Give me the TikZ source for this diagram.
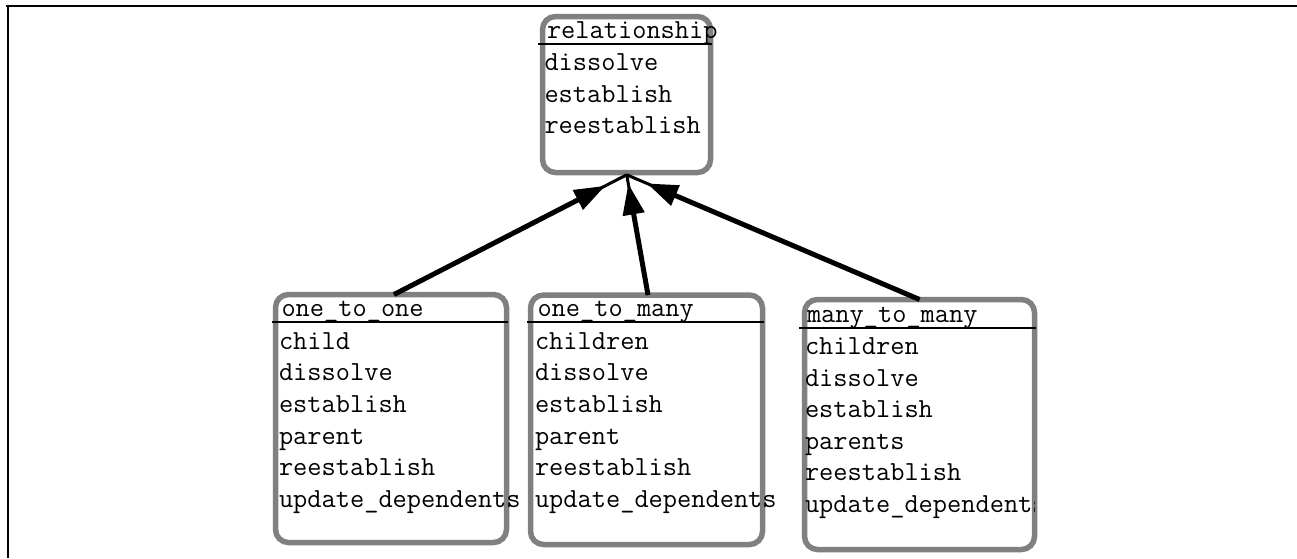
\documentclass[tikz,border=0pt]{standalone}
\usepackage{fontspec}
\usetikzlibrary{arrows.meta,calc}
\definecolor{boxgray}{HTML}{808080}
\begin{document}
\begin{tikzpicture}[x=1pt,y=-1pt,
  classbox/.style={draw=boxgray, line width=5.5pt, rounded corners=13pt, inner sep=0pt, outer sep=0pt},
  member/.style={anchor=base west, inner sep=0pt, outer sep=0pt, font=\ttfamily\fontsize{27.6}{32}\selectfont},
  titletext/.style={member},
  uline/.style={line width=2pt, black},
  stem/.style={line width=3pt, black},
  inherit/.style={line width=5pt, black, -{Triangle[length=31pt,width=21pt]}},
  frameline/.style={line width=2.2pt, black}]
\useasboundingbox (0,0) rectangle (1297,558);
% frame
\draw[frameline] (5.5,6.3) -- (1297,6.3);
\draw[frameline] (7.7,5.2) -- (7.7,558);
% boxes
\node[classbox, minimum width=168pt, minimum height=156pt] (rel) at (626.5,94.5) {};
\node[classbox, minimum width=231pt, minimum height=248pt] (oto) at (391,418.5) {};
\node[classbox, minimum width=232pt, minimum height=249.5pt] (otm) at (646.5,419.75) {};
\node[classbox, minimum width=230pt, minimum height=250pt] (mtm) at (919.5,424.5) {};
% underlines
\draw[uline] (538,43.5) -- (712,43.5);
\draw[uline] (272,322) -- (508,322);
\draw[uline] (527,322.3) -- (764,322.3);
\draw[uline] (799,327.7) -- (1036,327.7);
% relationship
\node[titletext] (relt) at (547,38) {relationship};
\node[member] (rel1) at (544.5,70.5) {dissolve};
\node[member] (rel2) at (544.5,102.1) {establish};
\node[member] (rel3) at (544.5,133.7) {reestablish};
% one_to_one
\node[titletext] (otot) at (281.5,316.7) {one\_to\_one};
\node[member] (oto1) at (279,349.2) {child};
\node[member] (oto2) at (279,380.8) {dissolve};
\node[member] (oto3) at (279,412.4) {establish};
\node[member] (oto4) at (279,444) {parent};
\node[member] (oto5) at (279,475.6) {reestablish};
\node[member] (oto6) at (279,507.2) {update\_dependents};
% one_to_many
\node[titletext] (otmt) at (537.5,316.7) {one\_to\_many};
\node[member] (otm1) at (535,349.2) {children};
\node[member] (otm2) at (535,380.8) {dissolve};
\node[member] (otm3) at (535,412.4) {establish};
\node[member] (otm4) at (535,444) {parent};
\node[member] (otm5) at (535,475.6) {reestablish};
\node[member] (otm6) at (535,507.2) {update\_dependents};
% many_to_many
\node[titletext] (mtmt) at (807,322) {many\_to\_many};
\node[member] (mtm1) at (805,354.5) {children};
\node[member] (mtm2) at (805,386.1) {dissolve};
\node[member] (mtm3) at (805,417.7) {establish};
\node[member] (mtm4) at (805,449.3) {parents};
\node[member] (mtm5) at (805,480.9) {reestablish};
\begin{scope}
\clip (800,485) rectangle (1034.5,530);
\node[member] (mtm6) at (805,512.5) {update\_dependents};
\end{scope}
% inheritance connectors
\coordinate (conv) at (626.7,174.8);
\draw[stem] ([xshift=3pt]oto.north) -- (conv);
\draw[inherit, shorten >=24pt] ([xshift=3pt]oto.north) -- (conv);
\draw[stem] ([xshift=1.5pt]otm.north) -- (conv);
\draw[inherit, shorten >=9pt] ([xshift=1.5pt]otm.north) -- (conv);
\draw[stem] (mtm.north) -- (conv);
\draw[inherit, shorten >=22pt] (mtm.north) -- (conv);
\end{tikzpicture}
\end{document}
